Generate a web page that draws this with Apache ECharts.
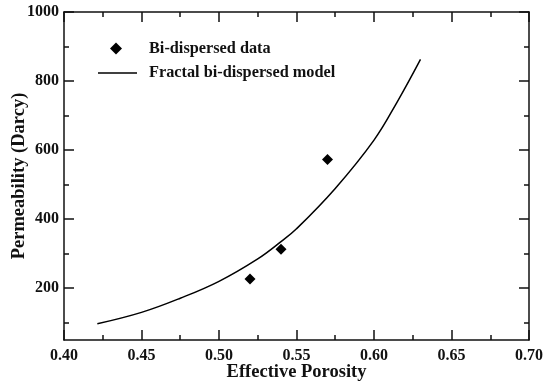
<!DOCTYPE html>
<html>
<head>
<meta charset="utf-8">
<script src="https://cdn.jsdelivr.net/npm/echarts@6/dist/echarts.min.js"></script>
<style>
html,body{margin:0;padding:0;background:#fff;}
#chart{width:550px;height:389px;}
</style>
</head>
<body>
<div id="chart"></div>
<script>
// Data
const dataPorosity = [0.52, 0.54, 0.57];
const dataPermeability = [227, 313, 573];
const modelPorosity = [0.4215, 0.45, 0.475, 0.50, 0.525, 0.54, 0.55, 0.575, 0.60, 0.615, 0.63];
const modelPermeability = [97, 130, 171, 220, 285, 335, 372, 489, 629, 740, 863];
const yLabelValues = [200, 400, 600, 800, 1000];
const yMinorTickValues = [100, 300, 500, 700, 900];
const seriesNames = ['Bi-dispersed data', 'Fractal bi-dispersed model'];

const FONT = '"Liberation Serif", "Times New Roman", serif';
const INK = '#111';

const chart = echarts.init(document.getElementById('chart'), null, {renderer: 'canvas'});

function xAx(pos, showLabel) {
  return {
    type: 'value', position: pos, min: 0.40, max: 0.70, interval: 0.05,
    axisLine: {show: true, onZero: false, lineStyle: {color: INK, width: 1.5}},
    axisTick: {show: true, inside: true, length: 10, lineStyle: {color: INK, width: 1.5}},
    minorTick: {show: true, splitNumber: 2, length: 5, lineStyle: {color: INK, width: 1.5}},
    splitLine: {show: false},
    axisLabel: {show: showLabel, margin: 8, color: INK, fontFamily: FONT, fontWeight: 'bold', fontSize: 16,
      formatter: v => v.toFixed(2)},
    name: showLabel ? 'Effective Porosity' : '', nameLocation: 'middle', nameGap: 23, nameMoveOverlap: false,
    nameTextStyle: {color: INK, fontFamily: FONT, fontWeight: 'bold', fontSize: 18.5}
  };
}
function yAx(pos, tickVals, tickLen, showLabel, showLine) {
  return {
    type: 'value', position: pos, min: 50, max: 1000,
    axisLine: {show: showLine, onZero: false, lineStyle: {color: INK, width: 1.5}},
    axisTick: {show: true, inside: true, length: tickLen, customValues: tickVals, lineStyle: {color: INK, width: 1.5}},
    splitLine: {show: false},
    axisLabel: {show: showLabel, customValues: yLabelValues, margin: 5, color: INK, fontFamily: FONT, fontWeight: 'bold', fontSize: 16,
      formatter: v => String(v)},
    name: showLabel ? 'Permeability (Darcy)' : '', nameLocation: 'middle', nameGap: 35, nameMoveOverlap: false,
    nameTextStyle: {color: INK, fontFamily: FONT, fontWeight: 'bold', fontSize: 18.5}
  };
}

const legendText = {color: INK, fontFamily: FONT, fontWeight: 'bold', fontSize: 16.3};

chart.setOption({
  animation: false,
  backgroundColor: '#fff',
  grid: {left: 64, right: 21, top: 12, bottom: 49, outerBoundsMode: 'none', containLabel: false},
  xAxis: [xAx('bottom', true), xAx('top', false)],
  yAxis: [
    yAx('left', yLabelValues, 10, true, true),
    yAx('left', yMinorTickValues, 5, false, false),
    yAx('right', yLabelValues, 10, false, true),
    yAx('right', yMinorTickValues, 5, false, false)
  ],
  legend: [
    {
      orient: 'vertical', left: 105, top: 35.5, itemWidth: 12, itemHeight: 12,
      data: [{name: seriesNames[0], icon: 'diamond', itemStyle: {color: '#000', opacity: 1}}],
      textStyle: Object.assign({}, legendText, {padding: [0, 0, 0, 22]})
    },
    {
      orient: 'vertical', left: 93, top: 60, itemWidth: 39, itemHeight: 1.6,
      data: [{name: seriesNames[1], icon: 'rect', itemStyle: {color: '#000'}}],
      textStyle: Object.assign({}, legendText, {padding: [0, 0, 0, 7]})
    }
  ],
  series: [
    {
      name: seriesNames[0], type: 'scatter', symbol: 'diamond', symbolSize: 11,
      itemStyle: {color: '#000', opacity: 1},
      data: dataPorosity.map((x, i) => [x, dataPermeability[i]])
    },
    {
      name: seriesNames[1], type: 'line', smooth: 0.4, showSymbol: false, symbol: 'none',
      lineStyle: {color: '#000', width: 1.5}, itemStyle: {color: '#000'},
      data: modelPorosity.map((x, i) => [x, modelPermeability[i]])
    }
  ]
});
</script>
</body>
</html>
